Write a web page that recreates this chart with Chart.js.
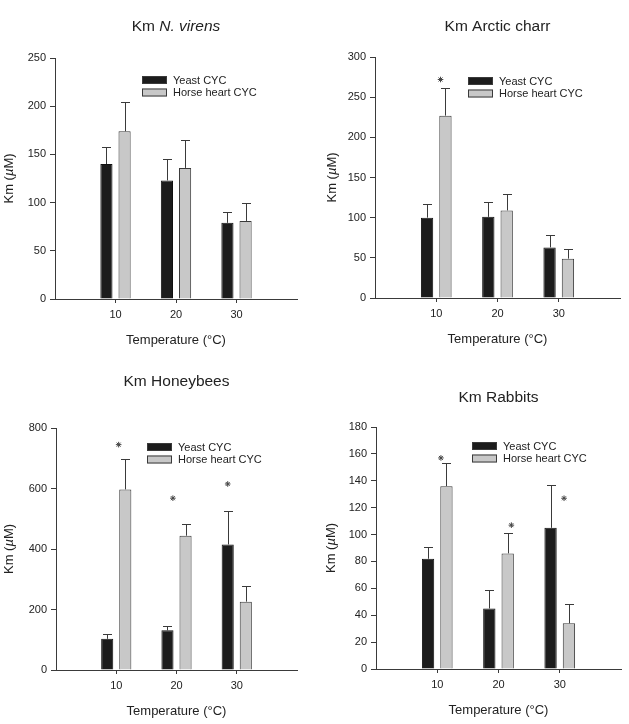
<!DOCTYPE html>
<html>
<head>
<meta charset="utf-8">
<script src="https://cdn.jsdelivr.net/npm/chart.js@4.4.1/dist/chart.umd.min.js"></script>
<style>
  body { margin: 0; background: #fff; }
  #wrap { position: relative; width: 629px; height: 724px; background: #fff; }
  #wrap canvas { position: absolute; }
</style>
</head>
<body>
<div id="wrap">
  <canvas id="c1" width="315" height="362" style="left:0;top:0"></canvas>
  <canvas id="c2" width="314" height="362" style="left:315px;top:0"></canvas>
  <canvas id="c3" width="315" height="362" style="left:0;top:362px"></canvas>
  <canvas id="c4" width="314" height="362" style="left:315px;top:362px"></canvas>
</div>
<script>
'use strict';

var temps = [10, 20, 30];
var seriesNames = ['Yeast CYC', 'Horse heart CYC'];
var yMaxes = [250, 300, 800, 180];
var ySteps = [50, 50, 200, 20];

// N. virens
var virensYeast = [140, 123, 79];
var virensYeastErr = [18, 22, 11];
var virensHorse = [174, 136, 81];
var virensHorseErr = [30, 29, 19];
var virensStarX = [];
var virensStarY = [];

// Arctic charr
var charrYeast = [100, 101, 63];
var charrYeastErr = [17, 19, 16];
var charrHorse = [227, 109, 49];
var charrHorseErr = [34, 21, 12];
var charrStarX = [10.7];
var charrStarY = [272];

// Honeybees
var beesYeast = [103, 131, 415];
var beesYeastErr = [15, 15, 111];
var beesHorse = [597, 444, 226];
var beesHorseErr = [100, 37, 53];
var beesStarX = [10.4, 19.4, 28.5];
var beesStarY = [745, 568, 615];

// Rabbits
var rabbitYeast = [82, 45, 105];
var rabbitYeastErr = [9, 14, 32];
var rabbitHorse = [136, 86, 34];
var rabbitHorseErr = [17, 15, 14];
var rabbitStarX = [10.6, 22.1, 30.7];
var rabbitStarY = [157, 107, 127];

var FONT = '"Liberation Sans", Arial, Helvetica, sans-serif';
var TEXT = '#222';
var LINE = '#3a3a3a';
var YEAST_FILL = '#1c1c1c';
var HORSE_FILL = '#c8c8c8';
var X_AXIS_H = 53;

function drawParts(ctx, parts, cx, cy, size) {
    var total = 0;
    parts.forEach(function (p) {
        ctx.font = (p[1] ? 'italic ' : '') + size + 'px ' + FONT;
        total += ctx.measureText(p[0]).width;
    });
    var x = cx - total / 2;
    ctx.textAlign = 'left';
    ctx.textBaseline = 'middle';
    parts.forEach(function (p) {
        ctx.font = (p[1] ? 'italic ' : '') + size + 'px ' + FONT;
        ctx.fillText(p[0], x, cy);
        x += ctx.measureText(p[0]).width;
    });
}

var errorBars = {
    id: 'errorBars',
    afterDatasetsDraw: function (chart) {
        var ctx = chart.ctx;
        var yScale = chart.scales.y;
        ctx.save();
        ctx.strokeStyle = LINE;
        ctx.lineWidth = 1;
        chart.data.datasets.forEach(function (ds, d) {
            if (!ds.errors) return;
            chart.getDatasetMeta(d).data.forEach(function (bar, i) {
                var top = Math.round(yScale.getPixelForValue(ds.data[i].y + ds.errors[i])) + 0.5;
                var x = Math.round(bar.x) + 0.5;
                ctx.beginPath();
                ctx.moveTo(x, bar.y);
                ctx.lineTo(x, top);
                ctx.moveTo(x - 4.5, top);
                ctx.lineTo(x + 4.5, top);
                ctx.stroke();
            });
        });
        ctx.restore();
    }
};

var panelText = {
    id: 'panelText',
    afterDraw: function (chart, args, opts) {
        var ctx = chart.ctx;
        var a = chart.chartArea;
        ctx.save();
        ctx.fillStyle = TEXT;
        drawParts(ctx, opts.title, (a.left + a.right) / 2, opts.titleY, 15.5);

        ctx.save();
        ctx.translate(opts.yTitleX, (a.top + a.bottom) / 2);
        ctx.rotate(-Math.PI / 2);
        drawParts(ctx, [['Km (', false], ['\u00b5', true], ['M)', false]], 0, 0, 13);
        ctx.restore();

        // legend
        var fills = [YEAST_FILL, HORSE_FILL];
        for (var i = 0; i < seriesNames.length; i++) {
            var bx = opts.legendX;
            var by = opts.legendY + i * 12.5;
            ctx.fillStyle = fills[i];
            ctx.fillRect(bx, by, 25, 8);
            ctx.strokeStyle = LINE;
            ctx.lineWidth = 1;
            ctx.strokeRect(bx + 0.5, by + 0.5, 24, 7);
            ctx.fillStyle = TEXT;
            ctx.font = '11px ' + FONT;
            ctx.textAlign = 'left';
            ctx.textBaseline = 'middle';
            ctx.fillText(seriesNames[i], bx + 31, by + 4.5);
        }
        ctx.restore();
    }
};

function makePanel(id, n, p) {
    var canvas = document.getElementById(id);
    var W = canvas.width, H = canvas.height;
    new Chart(canvas, {
        type: 'bar',
        data: {
            datasets: [{
                label: seriesNames[0],
                data: temps.map(function (t, i) { return { x: t, y: p.yeast[i] }; }),
                errors: p.yeastErr,
                backgroundColor: YEAST_FILL,
                borderColor: '#111',
                borderWidth: 1
            }, {
                label: seriesNames[1],
                data: temps.map(function (t, i) { return { x: t, y: p.horse[i] }; }),
                errors: p.horseErr,
                backgroundColor: HORSE_FILL,
                borderColor: LINE,
                borderWidth: 1
            }, {
                type: 'scatter',
                label: 'significant',
                data: p.starX.map(function (x, i) { return { x: x, y: p.starY[i] }; }),
                pointStyle: 'star',
                radius: 2.8,
                borderColor: '#444',
                borderWidth: 1,
                backgroundColor: 'transparent'
            }]
        },
        options: {
            responsive: false,
            animation: false,
            events: [],
            categoryPercentage: 0.6,
            barPercentage: 0.67,
            layout: {
                padding: {
                    left: 0,
                    top: p.area.top,
                    right: W - p.area.right,
                    bottom: H - p.area.bottom - X_AXIS_H
                }
            },
            plugins: {
                legend: { display: false },
                tooltip: { enabled: false },
                panelText: {
                    title: p.title,
                    titleY: p.titleY,
                    yTitleX: p.yTitleX,
                    legendX: p.legendX,
                    legendY: p.legendY
                }
            },
            scales: {
                x: {
                    type: 'linear',
                    min: 0,
                    max: 40,
                    offset: false,
                    afterBuildTicks: function (axis) {
                        axis.ticks = temps.map(function (t) { return { value: t }; });
                    },
                    afterFit: function (axis) { axis.height = X_AXIS_H; },
                    grid: { offset: false, drawOnChartArea: false, tickLength: 4, color: LINE },
                    border: { color: LINE, width: 1 },
                    ticks: { color: TEXT, padding: 5, font: { family: FONT, size: 11 } },
                    title: {
                        display: true,
                        text: 'Temperature (\u00b0C)',
                        color: TEXT,
                        padding: { top: 0, bottom: 4 },
                        font: { family: FONT, size: 13 }
                    }
                },
                y: {
                    min: 0,
                    max: yMaxes[n],
                    afterFit: function (axis) { axis.width = p.area.left; },
                    grid: { drawOnChartArea: false, tickLength: 5, color: LINE },
                    border: { color: LINE, width: 1 },
                    ticks: { stepSize: ySteps[n], color: TEXT, padding: 4, font: { family: FONT, size: 11 } }
                }
            }
        },
        plugins: [errorBars, panelText]
    });
}

makePanel('c1', 0, {
    yeast: virensYeast, yeastErr: virensYeastErr, horse: virensHorse, horseErr: virensHorseErr,
    starX: virensStarX, starY: virensStarY,
    title: [['Km ', false], ['N. virens', true]],
    area: { left: 55, right: 297, top: 58, bottom: 299 },
    titleY: 27, yTitleX: 9, legendX: 142, legendY: 76
});
makePanel('c2', 1, {
    yeast: charrYeast, yeastErr: charrYeastErr, horse: charrHorse, horseErr: charrHorseErr,
    starX: charrStarX, starY: charrStarY,
    title: [['Km Arctic charr', false]],
    area: { left: 60, right: 305, top: 57, bottom: 298 },
    titleY: 27, yTitleX: 17, legendX: 153, legendY: 77
});
makePanel('c3', 2, {
    yeast: beesYeast, yeastErr: beesYeastErr, horse: beesHorse, horseErr: beesHorseErr,
    starX: beesStarX, starY: beesStarY,
    title: [['Km Honeybees', false]],
    area: { left: 56, right: 297, top: 66, bottom: 308 },
    titleY: 20, yTitleX: 9, legendX: 147, legendY: 81
});
makePanel('c4', 3, {
    yeast: rabbitYeast, yeastErr: rabbitYeastErr, horse: rabbitHorse, horseErr: rabbitHorseErr,
    starX: rabbitStarX, starY: rabbitStarY,
    title: [['Km Rabbits', false]],
    area: { left: 61, right: 306, top: 65, bottom: 307 },
    titleY: 36, yTitleX: 16, legendX: 157, legendY: 80
});
</script>
</body>
</html>
